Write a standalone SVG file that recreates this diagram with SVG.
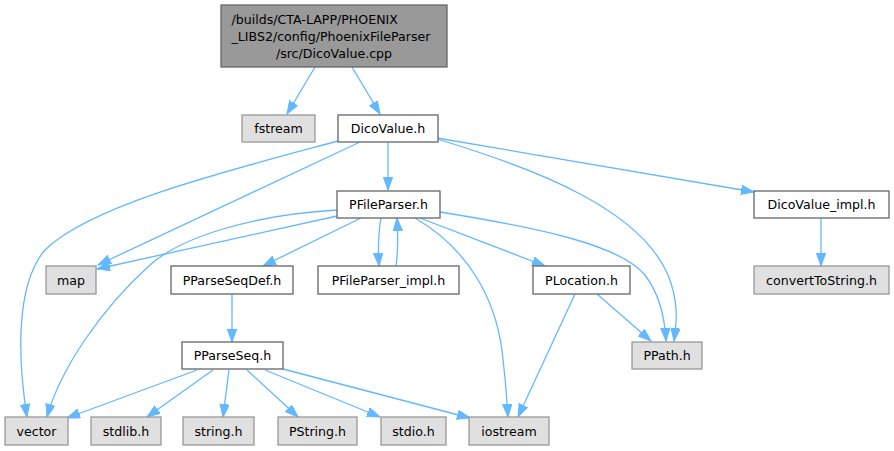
<svg xmlns="http://www.w3.org/2000/svg" width="894" height="451" viewBox="0 0 894 451">
<style>
.n rect{fill:#ffffff;stroke:#666666;stroke-width:1.3}
.g rect{fill:#e0e0e0;stroke:#999999;stroke-width:1.3}
.r rect{fill:#999999;stroke:#666666;stroke-width:1.3}
text{font-family:"DejaVu Sans",Verdana,sans-serif;font-size:12.6px;fill:#000000;text-anchor:middle}
.e path{fill:none;stroke:#63b8ff;stroke-width:1.3;marker-end:url(#a)}
</style>
<defs>
<marker id="a" markerUnits="userSpaceOnUse" markerWidth="14" markerHeight="10" refX="13" refY="4.7" orient="auto">
<path d="M0,0 L13,4.7 L0,9.4 z" fill="#63b8ff" stroke="#63b8ff" stroke-width="1"/>
</marker>
</defs>
<rect width="894" height="451" fill="#ffffff"/>
<g id="edges" class="e">
<path d="M315,67 L287,114"/>
<path d="M352,67 L380,114"/>
<path d="M338,141 C230,170 90,205 45,250 C15,285 18,360 27,417"/>
<path d="M360,142 L98,265"/>
<path d="M388,142 L388,190"/>
<path d="M437,138 L754,192"/>
<path d="M437,139 C540,170 640,210 668,275 C680,305 676,325 674,341"/>
<path d="M337,216 L97,269"/>
<path d="M337,210 C250,215 180,238 150,265 C100,310 60,370 47,417"/>
<path d="M361,218 L263,266"/>
<path d="M381,218 C378,235 378,250 379,266"/>
<path d="M396,266 C398,252 398,235 397,218"/>
<path d="M420,218 L545,266"/>
<path d="M415,218 C470,250 495,300 502,350 C505,375 507,400 508,417"/>
<path d="M440,212 C540,228 620,245 645,275 C660,295 665,320 666,341"/>
<path d="M597,294 L651,341"/>
<path d="M575,294 L518,417"/>
<path d="M821,218 L821,266"/>
<path d="M232,294 L232,342"/>
<path d="M197,370 L67,418"/>
<path d="M213,370 L147,417"/>
<path d="M229,370 L223,417"/>
<path d="M247,370 L298,417"/>
<path d="M265,370 L380,417"/>
<path d="M283,369 L470,418"/>
</g>
<g id="root" class="r"><rect x="221" y="5" width="226" height="62"/>
<text x="231.5" y="23.5" style="text-anchor:start">/builds/CTA-LAPP/PHOENIX</text>
<text x="231.5" y="40.5" style="text-anchor:start">_LIBS2/config/PhoenixFileParser</text>
<text x="334" y="57.5">/src/DicoValue.cpp</text></g>
<g id="fstream" class="g"><rect x="242" y="115" width="73" height="27"/><text x="278.5" y="133">fstream</text></g>
<g id="DicoValue_h" class="n"><rect x="338" y="115" width="100" height="27"/><text x="388" y="133">DicoValue.h</text></g>
<g id="PFileParser_h" class="n"><rect x="337" y="191" width="103" height="27"/><text x="388.5" y="209">PFileParser.h</text></g>
<g id="DicoValue_impl_h" class="n"><rect x="754" y="191" width="135" height="27"/><text x="821.5" y="209">DicoValue_impl.h</text></g>
<g id="map" class="g"><rect x="46" y="266" width="50" height="28"/><text x="71" y="284.5">map</text></g>
<g id="PParseSeqDef_h" class="n"><rect x="171" y="266" width="122" height="28"/><text x="232" y="284.5">PParseSeqDef.h</text></g>
<g id="PFileParser_impl_h" class="n"><rect x="318" y="266" width="141" height="28"/><text x="388.5" y="284.5">PFileParser_impl.h</text></g>
<g id="PLocation_h" class="n"><rect x="533" y="266" width="97" height="28"/><text x="581.5" y="284.5">PLocation.h</text></g>
<g id="convertToString_h" class="g"><rect x="754" y="266" width="135" height="28"/><text x="821.5" y="284.5">convertToString.h</text></g>
<g id="PPath_h" class="g"><rect x="632" y="342" width="70" height="27"/><text x="667" y="360">PPath.h</text></g>
<g id="PParseSeq_h" class="n"><rect x="182" y="342" width="101" height="27"/><text x="232.5" y="360">PParseSeq.h</text></g>
<g id="vector" class="g"><rect x="5" y="417" width="63" height="28"/><text x="36.5" y="435.5">vector</text></g>
<g id="stdlib_h" class="g"><rect x="91" y="417" width="70" height="28"/><text x="126" y="435.5">stdlib.h</text></g>
<g id="string_h" class="g"><rect x="183" y="417" width="71" height="28"/><text x="218.5" y="435.5">string.h</text></g>
<g id="PString_h" class="g"><rect x="278" y="417" width="79" height="28"/><text x="317.5" y="435.5">PString.h</text></g>
<g id="stdio_h" class="g"><rect x="381" y="417" width="65" height="28"/><text x="413.5" y="435.5">stdio.h</text></g>
<g id="iostream" class="g"><rect x="469" y="417" width="80" height="28"/><text x="509" y="435.5">iostream</text></g>
</svg>
